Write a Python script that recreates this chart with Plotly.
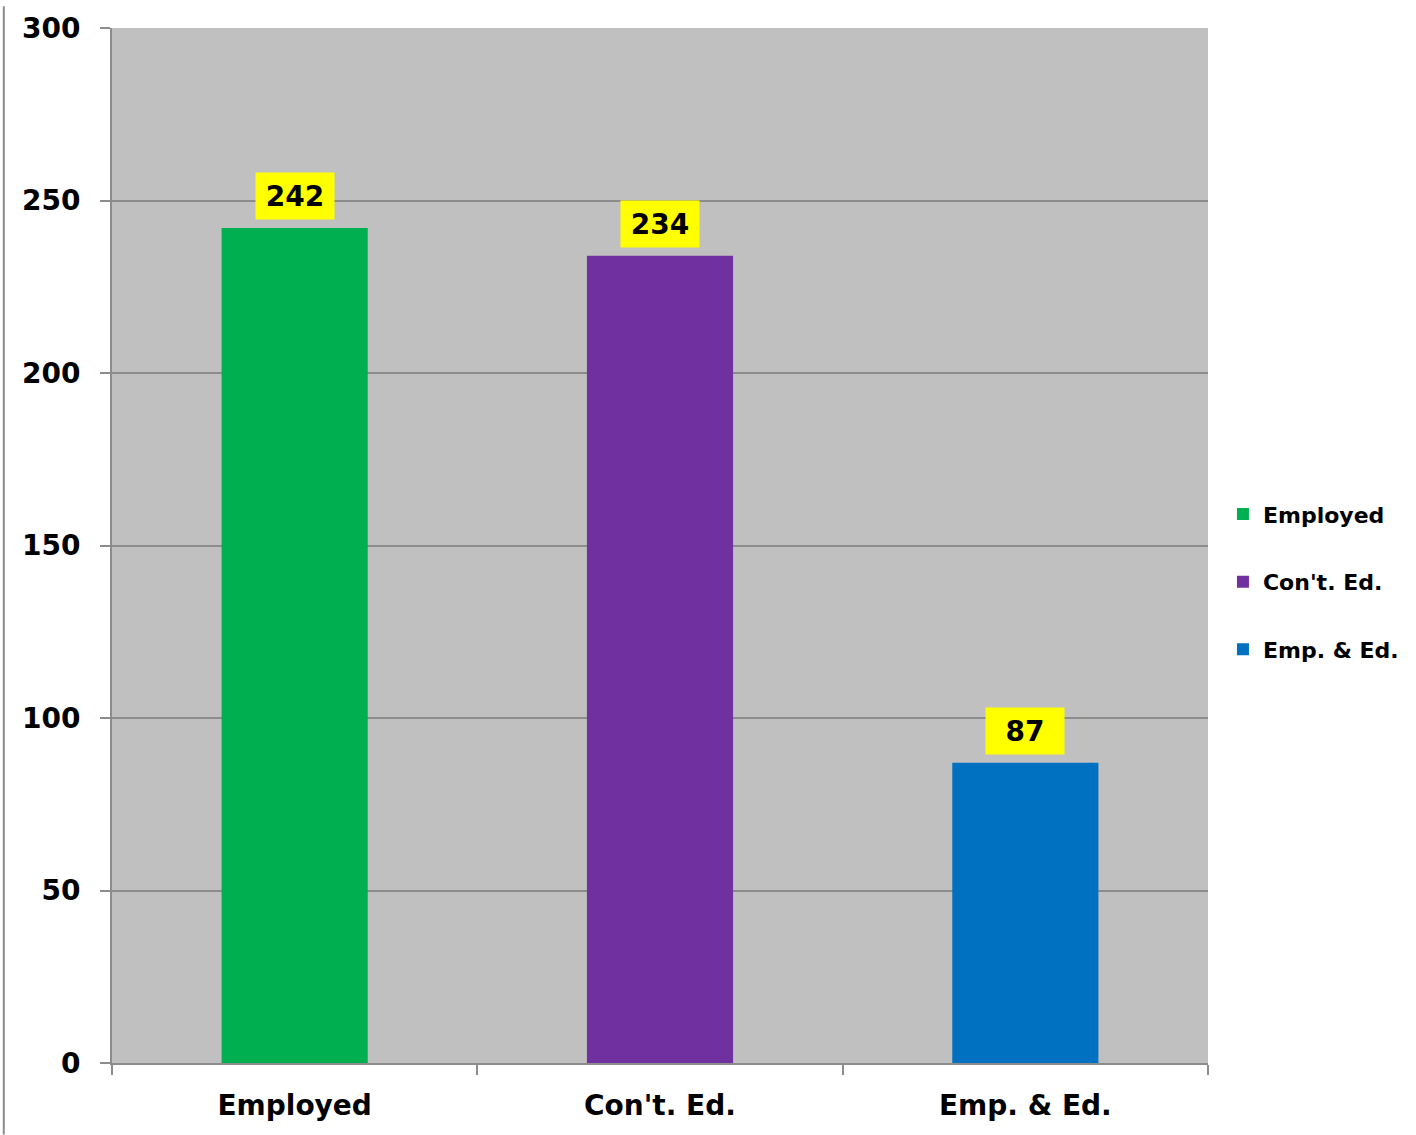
import plotly.graph_objects as go

categories = ["Employed", "Con't. Ed.", "Emp. & Ed."]
values = [242, 234, 87]
colors = ["#00B050", "#7030A0", "#0070C0"]
y_ticks = [0, 50, 100, 150, 200, 250, 300]

FONT = "DejaVu Sans"
W, H = 1416, 1135
L, R, T, B = 112, 205, 22, 72
PW, PH = W - L - R, H - T - B

fig = go.Figure()
for i, (c, v, col) in enumerate(zip(categories, values, colors)):
    fig.add_trace(go.Bar(
        x=[c], y=[v], name=c, marker=dict(color=col, line=dict(width=0)),
        width=0.4, legendgroup=f"g{i}", hoverinfo="x+y",
    ))
    fig.add_annotation(
        x=c, y=v, text=str(v), showarrow=False, yanchor="bottom", yshift=8,
        bgcolor="#FFFF00", borderpad=6, width=66, height=34,
        font=dict(family=FONT, size=28, color="black", weight="bold"),
    )

fig.add_shape(type="line", xref="paper", yref="paper",
              x0=(3.5 - L) / PW, x1=(3.5 - L) / PW,
              y0=-B / PH, y1=1 + T / PH,
              line=dict(color="#8c8c8c", width=2))

fig.update_layout(
    width=W, height=H,
    margin=dict(l=L, r=R, t=T, b=B, pad=0),
    paper_bgcolor="white", plot_bgcolor="#C0C0C0",
    barmode="overlay",
    font=dict(family=FONT, color="black", weight="bold"),
    legend=dict(x=(1226 - L) / PW, xanchor="left", y=(H - B - 579) / PH, yanchor="middle",
                font=dict(family=FONT, size=22, weight="bold"),
                tracegroupgap=36, itemwidth=30, bgcolor="rgba(0,0,0,0)"),
    showlegend=True,
    xaxis=dict(type="category", range=[-0.5, 2.5], tickson="boundaries",
               ticks="outside", ticklen=10, tickwidth=2, tickcolor="#8c8c8c",
               showline=True, linecolor="#8c8c8c", linewidth=2,
               showgrid=False, ticklabelstandoff=16,
               tickfont=dict(family=FONT, size=28, weight="bold")),
    yaxis=dict(range=[0, 300], tickvals=y_ticks, ticks="outside", ticklen=10,
               tickwidth=2, tickcolor="#8c8c8c", showline=True,
               linecolor="#8c8c8c", linewidth=2, showgrid=True,
               gridcolor="#8c8c8c", gridwidth=2, zeroline=False,
               ticklabelstandoff=14,
               tickfont=dict(family=FONT, size=28, weight="bold")),
)

fig.write_html("out.html", config={"displayModeBar": False},
               post_script="document.body.style.margin='0';document.body.style.overflow='hidden';")
